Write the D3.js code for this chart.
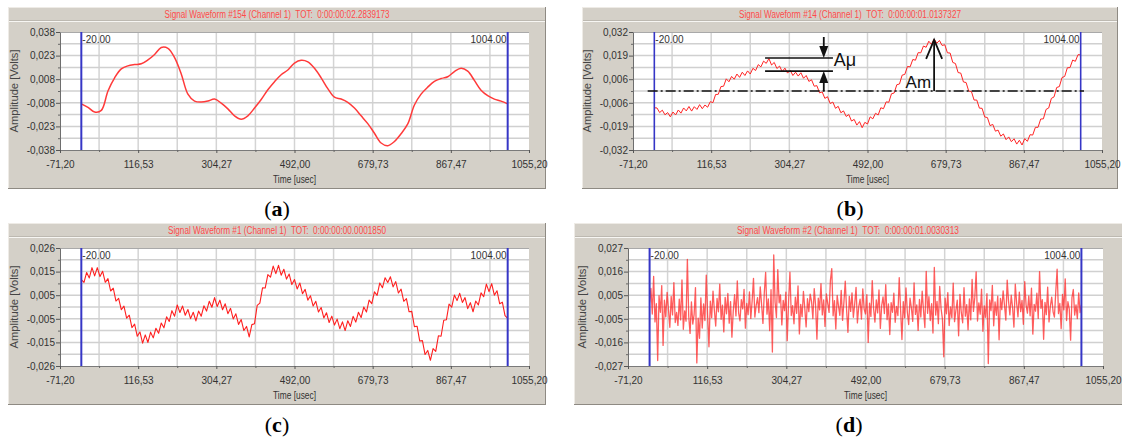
<!DOCTYPE html>
<html>
<head>
<meta charset="utf-8">
<script src="https://cdn.jsdelivr.net/npm/d3@7"></script>
<style>
  html, body { margin: 0; padding: 0; background: #ffffff; }
  svg { display: block; }
  .ui { font-family: "Liberation Sans Narrow", "Arial Narrow", "Liberation Sans", Arial, sans-serif; }
</style>
</head>
<body>
<svg id="fig" width="1122" height="441"></svg>
<script>
// ---- acquisition settings shared by all four records ----
const timeMin = -71.2, timeMax = 1055.2;           // usec, visible window
const cursorStart = -20, cursorEnd = 1004;          // usec, record start / end cursors
const cursorLabels = ["-20.00", "1004.00"];
const timeTickLabels = ["-71,20", "116,53", "304,27", "492,00", "679,73", "867,47", "1055,20"];

const titles = [
  "Signal Waveform #154 (Channel 1)  TOT:  0:00:00:02.2839173",
  "Signal Waveform #14 (Channel 1)  TOT:  0:00:00:01.0137327",
  "Signal Waveform #1 (Channel 1)  TOT:  0:00:00:00.0001850",
  "Signal Waveform #2 (Channel 1)  TOT:  0:00:00:01.0030313"
];
const captions = ["a", "b", "c", "d"];

// full-scale amplitude of each record (V) and its printed tick labels, top to bottom
const ampFullScale = [0.038, 0.032, 0.0258, 0.027];
const ampLabelsA = ["0,038", "0,023", "0,008", "-0,008", "-0,023", "-0,038"];
const ampLabelsB = ["0,032", "0,019", "0,006", "-0,006", "-0,019", "-0,032"];
const ampLabelsC = ["0,026", "0,015", "0,005", "-0,005", "-0,015", "-0,026"];
const ampLabelsD = ["0,027", "0,016", "0,005", "-0,005", "-0,016", "-0,027"];

// ---- waveforms, millivolts, evenly sampled between the two cursors ----
const waveA = [-8.3,-10.5,-13.5,-12.5,0.0,8.5,14.2,16.2,17.0,17.5,20.0,23.5,28.0,27.5,21.5,11.0,-2.0,-6.5,-7.1,-6.5,
  -5.2,-7.8,-11.5,-16.0,-18.2,-16.0,-11.0,-5.5,0.8,6.0,10.5,13.5,18.0,19.8,18.8,14.6,8.5,1.5,-4.0,-5.2,
  -7.3,-11.0,-16.0,-21.0,-27.2,-33.5,-35.2,-32.5,-27.5,-21.2,-9.0,-2.0,2.5,6.2,8.0,9.2,12.5,14.6,12.8,6.8,
  0.5,-3.0,-5.2,-6.5,-8.3];

const waveB = [-9.1,-9.2,-11.7,-10.4,-12.9,-11.7,-14.0,-11.4,-13.0,-10.3,
  -12.0,-9.2,-10.8,-8.4,-10.9,-8.5,-10.0,-7.4,-9.6,-7.6,
  -8.8,-5.8,-6.3,-1.9,-1.8,2.4,2.6,6.6,5.0,7.9,
  6.4,9.2,7.4,10.2,8.4,10.9,9.2,12.3,11.1,14.3,
  13.1,16.2,15.0,17.6,14.1,15.5,12.2,13.5,10.5,12.4,
  9.7,11.2,8.4,10.2,8.1,9.9,6.9,8.4,5.2,6.1,
  2.6,2.9,-1.0,-0.5,-4.0,-3.1,-6.8,-6.0,-9.4,-8.3,
  -11.8,-10.8,-13.8,-12.8,-16.3,-15.4,-18.5,-16.6,-19.9,-17.0,
  -17.9,-14.0,-15.1,-12.1,-13.0,-9.1,-9.6,-5.9,-6.1,-1.5,
  -1.1,3.4,3.8,8.6,9.0,13.3,13.1,17.1,16.7,20.8,
  20.7,24.4,23.7,27.0,25.3,28.2,25.9,27.4,24.7,25.1,
  20.7,20.6,15.5,14.9,10.0,9.7,4.9,4.6,-0.1,-0.3,
  -4.9,-4.9,-9.3,-9.4,-14.1,-14.4,-18.8,-18.1,-21.8,-21.2,
  -24.5,-23.3,-26.4,-24.9,-27.5,-25.9,-28.8,-26.7,-29.3,-25.8,
  -27.3,-23.7,-23.9,-19.7,-19.7,-15.2,-15.1,-10.0,-9.2,-4.0,
  -3.2,1.9,2.4,7.3,7.9,12.6,12.7,16.8,16.1,19.7,
  19.6];

const waveC = [12.0,10.8,15.1,12.7,17.2,13.6,17.2,13.3,15.6,10.8,
  12.4,7.0,8.2,2.6,3.8,-1.2,0.4,-4.9,-3.6,-9.0,
  -7.5,-12.8,-10.9,-15.8,-12.2,-15.5,-11.0,-13.5,-9.3,-11.5,
  -7.0,-9.1,-4.3,-6.3,-1.6,-4.0,0.9,-2.4,0.4,-3.6,
  -1.1,-5.1,-2.3,-6.1,-1.8,-4.0,0.5,-1.8,2.5,-0.1,
  4.1,0.2,3.0,-1.2,1.4,-2.9,-0.6,-5.2,-3.0,-7.6,
  -5.5,-10.3,-8.5,-13.1,-7.7,-7.3,0.7,1.7,8.4,8.3,
  14.2,13.1,17.9,14.6,18.2,13.9,16.5,12.2,14.4,9.8,
  12.0,7.9,10.5,5.8,7.7,3.0,4.9,0.4,2.5,-2.2,
  -0.2,-4.8,-2.5,-6.8,-4.0,-7.9,-5.3,-9.5,-6.5,-10.3,
  -6.0,-8.5,-4.1,-6.6,-2.3,-4.6,0.0,-2.2,3.0,1.5,
  6.6,5.1,10.5,8.4,12.8,10.7,13.2,8.8,11.1,6.1,
  7.8,2.5,3.7,-2.1,-1.9,-8.6,-8.4,-14.9,-14.7,-20.8,
  -19.0,-23.3,-18.2,-19.4,-12.6,-12.8,-5.8,-5.6,1.3,-0.1,
  5.2,2.8,6.0,2.0,4.1,-0.7,1.9,-2.1,2.6,0.9,
  6.2,4.5,10.0,6.7,10.2,5.2,7.1,1.4,2.1,-3.8,
  -5.0];

const waveD = [2.1,8.5,-3.2,14.0,-6.8,1.5,-24.5,5.2,-2.4,9.8,-17.6,3.1,-4.5,6.7,-1.2,-9.3,4.8,-3.6,11.2,-7.1,
  -2.5,-8.4,3.6,-5.9,12.4,-10.2,-1.8,-6.5,21.8,-4.2,-12.1,2.3,-7.8,-3.4,8.9,-25.6,-5.1,-14.3,4.2,-9.6,
  1.4,-6.2,14.6,-3.8,-18.2,2.7,-4.9,7.3,-1.5,-8.7,3.9,-2.2,10.5,-5.6,0.8,-11.4,4.4,-3.1,6.2,-7.4,
  2.5,-13.8,-1.9,5.6,-4.1,11.9,-2.8,-6.3,3.4,-0.9,8.1,-9.7,1.6,-3.5,6.9,-5.2,2.8,13.1,-4.6,0.7,
  4.3,-2.6,9.2,1.1,-7.5,6.4,15.8,-3.3,3.7,-10.8,7.9,-20.6,23.8,2.2,-4.8,17.1,1.9,5.5,-8.2,3.0,
  -1.7,6.8,-15.4,2.4,15.9,-3.9,0.6,-7.7,4.5,-2.9,9.6,-12.3,1.2,-4.4,7.1,-0.5,-9.1,3.8,-2.1,5.9,
  2.6,-5.3,8.4,0.9,-14.7,4.1,-1.3,10.7,-3.6,3.2,-8.9,6.0,1.7,-2.5,12.2,17.6,-4.0,2.9,-10.1,5.3,
  0.4,-3.8,7.6,-6.1,2.1,11.8,-1.4,-11.6,4.9,-2.0,6.5,-4.7,1.3,9.0,-7.3,0.2,3.6,-5.5,8.3,-1.0,
  -3.2,5.7,-16.2,1.8,-4.3,12.1,-0.8,-6.9,3.3,-2.7,7.8,-9.8,0.6,4.6,-3.0,10.2,-5.8,1.4,-12.6,2.0,
  -2.4,6.3,-7.0,0.3,-3.9,13.4,-1.1,-14.9,2.5,-5.0,8.7,-2.3,-8.0,4.0,-0.4,-6.6,11.0,-3.4,1.0,-10.7,
  3.5,-4.6,7.2,-1.6,-9.4,16.3,-2.9,4.7,-6.2,1.5,-11.9,18.1,-3.7,2.6,-7.6,9.4,-0.7,-5.4,-22.8,4.0,
  -3.1,6.6,-8.5,0.1,-4.9,10.9,-6.7,-1.5,3.1,-13.2,5.8,-2.6,-7.2,8.8,-4.2,1.1,-10.4,3.7,-5.9,12.6,
  -2.0,4.4,16.1,-6.4,1.9,-3.3,8.2,-11.1,0.5,-4.7,6.1,-25.9,3.2,-1.7,9.9,-8.6,2.3,-3.8,5.0,-15.0,
  3.9,-1.2,7.4,0.8,-6.0,12.3,2.7,-3.6,5.4,-0.3,-9.2,10.4,1.8,-4.5,6.8,-2.1,3.0,-7.9,11.6,0.9,
  -2.8,5.1,-4.0,8.6,-12.4,1.2,-1.9,6.3,-5.2,16.2,-0.6,3.4,-14.8,2.1,-3.5,9.1,-6.8,0.4,4.5,-2.2,
  -4.6,7.0,17.3,-3.0,1.6,-9.9,5.8,-1.3,12.9,-6.2,2.4,-0.9,-15.2,4.3,8.0,-3.7,1.0,-5.3,6.4,-2.6,
  1.0];

// ---- amplitude markers drawn on record #14 ----
const baseLevel = 0;                  // V, dash-dot reference line
const baseSpan = [-36, 1012];         // usec
const aMuLevels = [0.0179, 0.0108];   // V, the two levels bracketing A\u03bc
const aMuSpan = [246, 409];           // usec
const aMuArrowTime = 387;             // usec
const amPeak = 0.0277;                // V, top of the Am arrow
const amArrowTime = 652;              // usec

// ---- page layout ----
const layout = [
  { box: [8, 7, 538, 182],    plot: [60, 529, 32, 150],   titleX: 277, titleLen: 225 },
  { box: [582, 7, 536, 182],  plot: [633, 1102, 32, 150], titleX: 850, titleLen: 222 },
  { box: [8, 223, 538, 182],  plot: [60, 529, 248, 366],  titleX: 277, titleLen: 218 },
  { box: [574, 223, 552, 182],plot: [628, 1103, 248, 366],titleX: 848, titleLen: 222 }
];
const captionPos = [[277, 216], [850, 216], [277, 432], [849, 432]];
const waves = [waveA, waveB, waveC, waveD];
const ampLabels = [ampLabelsA, ampLabelsB, ampLabelsC, ampLabelsD];
const waveStyle = [
  { color: "#ff3a3a", width: 1.5, opacity: 1, curve: d3.curveCatmullRom },
  { color: "#ff2424", width: 1.0, opacity: 1, curve: d3.curveLinear },
  { color: "#ff1f1f", width: 1.1, opacity: 1, curve: d3.curveLinear },
  { color: "#ff1e1e", width: 1.3, opacity: 0.72, curve: d3.curveLinear }
];

const svg = d3.select("#fig");
svg.append("rect").attr("width", 1122).attr("height", 441).attr("fill", "#ffffff");

const defs = svg.append("defs");

layout.forEach((L, idx) => {
  const [bx, by, bw, bh] = L.box;
  const [pl, pr, pt, pb] = L.plot;
  const fs = ampFullScale[idx];
  const g = svg.append("g").attr("class", "ui");

  // window frame
  g.append("rect").attr("x", bx).attr("y", by).attr("width", bw).attr("height", bh).attr("fill", "#d4d0c8");
  g.append("line").attr("x1", bx).attr("x2", bx + bw).attr("y1", by + 0.5).attr("y2", by + 0.5).attr("stroke", "#eeebe6");
  g.append("line").attr("x1", bx + 0.5).attr("x2", bx + 0.5).attr("y1", by).attr("y2", by + bh).attr("stroke", "#eeebe6");
  g.append("line").attr("x1", bx).attr("x2", bx + bw).attr("y1", by + bh - 0.5).attr("y2", by + bh - 0.5).attr("stroke", "#8e8a83");
  g.append("line").attr("x1", bx + bw - 0.5).attr("x2", bx + bw - 0.5).attr("y1", by).attr("y2", by + bh).attr("stroke", "#8e8a83");
  // title strip separator
  g.append("line").attr("x1", bx + 1).attr("x2", bx + bw - 1).attr("y1", by + 13.5).attr("y2", by + 13.5).attr("stroke", "#bdb9b1");
  g.append("line").attr("x1", bx + 1).attr("x2", bx + bw - 1).attr("y1", by + 14.5).attr("y2", by + 14.5).attr("stroke", "#f7f6f3");

  g.append("text")
    .attr("x", L.titleX).attr("y", by + 10.5)
    .attr("text-anchor", "middle")
    .attr("font-size", 10)
    .attr("fill", "#ff4a4a")
    .attr("textLength", L.titleLen).attr("lengthAdjust", "spacingAndGlyphs")
    .style("white-space", "pre")
    .text(titles[idx]);

  const x = d3.scaleLinear().domain([timeMin, timeMax]).range([pl, pr]);
  const y = d3.scaleLinear().domain([-fs, fs]).range([pb, pt]);

  // plot background
  g.append("rect").attr("x", pl).attr("y", pt).attr("width", pr - pl).attr("height", pb - pt).attr("fill", "#ffffff");

  // grid: every half division
  const timeStep = (timeMax - timeMin) / 12;
  const xGrid = d3.range(1, 12).map(k => timeMin + k * timeStep);
  const ampStep = (2 * fs) / 10;
  const yGrid = d3.range(1, 10).map(k => -fs + k * ampStep);
  g.append("g").selectAll("line").data(xGrid).join("line")
    .attr("x1", d => x(d)).attr("x2", d => x(d)).attr("y1", pt).attr("y2", pb)
    .attr("stroke", "#d4d4d4").attr("stroke-width", 1.5);
  g.append("g").selectAll("line").data(yGrid).join("line")
    .attr("x1", pl).attr("x2", pr).attr("y1", d => y(d)).attr("y2", d => y(d))
    .attr("stroke", "#d0d0d0").attr("stroke-width", 1.5);
  g.append("line").attr("x1", pl).attr("x2", pr).attr("y1", pt + 0.5).attr("y2", pt + 0.5).attr("stroke", "#a9a9a9");

  // waveform
  const clipId = "clip" + idx;
  defs.append("clipPath").attr("id", clipId).append("rect")
    .attr("x", pl).attr("y", pt).attr("width", pr - pl).attr("height", pb - pt);
  const wave = waves[idx];
  const dt = (cursorEnd - cursorStart) / (wave.length - 1);
  const pts = wave.map((mv, i) => [cursorStart + i * dt, mv / 1000]);
  const st = waveStyle[idx];
  g.append("path")
    .attr("clip-path", `url(#${clipId})`)
    .attr("d", d3.line().x(d => x(d[0])).y(d => y(d[1])).curve(st.curve)(pts))
    .attr("fill", "none").attr("stroke", st.color).attr("stroke-width", st.width)
    .attr("stroke-opacity", st.opacity).attr("stroke-linejoin", "round");

  // record cursors
  [cursorStart, cursorEnd].forEach(c => {
    g.append("line").attr("x1", x(c)).attr("x2", x(c)).attr("y1", pt).attr("y2", pb)
      .attr("stroke", "#3636c6").attr("stroke-width", idx === 1 ? 1.6 : 2);
  });
  g.append("text").attr("x", x(cursorStart) + 1).attr("y", pt + 11)
    .attr("font-size", 10).attr("fill", "#333").text(cursorLabels[0]);
  g.append("text").attr("x", x(cursorEnd) - 1).attr("y", pt + 11).attr("text-anchor", "end")
    .attr("font-size", 10).attr("fill", "#333").text(cursorLabels[1]);

  // amplitude axis
  const yMajor = d3.range(6).map(k => fs - k * 2 * ampStep);
  const yMinor = d3.range(5).map(k => fs - ampStep - k * 2 * ampStep);
  const yAx = g.append("g").attr("transform", `translate(${pl},0)`)
    .call(d3.axisLeft(y).tickValues(yMajor).tickFormat((d, i) => ampLabels[idx][i]).tickSize(4).tickSizeOuter(0).tickPadding(1));
  yAx.attr("font-family", null).attr("font-size", null);
  yAx.select(".domain").attr("stroke", "#6e6e6e");
  yAx.selectAll(".tick line").attr("stroke", "#555");
  yAx.selectAll("text").attr("font-size", 10).attr("fill", "#333");
  const yMin = g.append("g").attr("transform", `translate(${pl},0)`)
    .call(d3.axisLeft(y).tickValues(yMinor).tickFormat("").tickSize(2).tickSizeOuter(0));
  yMin.select(".domain").remove();
  yMin.selectAll(".tick line").attr("stroke", "#666");

  // time axis
  const xMajor = d3.range(7).map(k => timeMin + 2 * k * timeStep);
  const xMinor = d3.range(6).map(k => timeMin + (2 * k + 1) * timeStep);
  const xAx = g.append("g").attr("transform", `translate(0,${pb})`)
    .call(d3.axisBottom(x).tickValues(xMajor).tickFormat((d, i) => timeTickLabels[i]).tickSize(3).tickSizeOuter(0).tickPadding(8));
  xAx.attr("font-family", null).attr("font-size", null);
  xAx.select(".domain").attr("stroke", "#7a7a7a");
  xAx.selectAll(".tick line").attr("stroke", "#555");
  xAx.selectAll("text").attr("font-size", 10).attr("fill", "#333");
  const xMin = g.append("g").attr("transform", `translate(0,${pb})`)
    .call(d3.axisBottom(x).tickValues(xMinor).tickFormat("").tickSize(2).tickSizeOuter(0));
  xMin.select(".domain").remove();
  xMin.selectAll(".tick line").attr("stroke", "#666");

  // axis titles
  g.append("text").attr("x", (pl + pr) / 2).attr("y", pb + 33).attr("text-anchor", "middle")
    .attr("font-size", 10).attr("fill", "#333").attr("textLength", 43).attr("lengthAdjust", "spacingAndGlyphs")
    .text("Time [usec]");
  g.append("text").attr("transform", `translate(${pl - 42},${(pt + pb) / 2}) rotate(-90)`)
    .attr("text-anchor", "middle").attr("font-size", 10).attr("fill", "#444")
    .attr("textLength", 83).attr("lengthAdjust", "spacingAndGlyphs")
    .text("Amplitude [Volts]");

  // amplitude markers on record #14
  if (idx === 1) {
    const ink = "#111";
    g.append("line").attr("x1", x(baseSpan[0])).attr("x2", x(baseSpan[1]))
      .attr("y1", y(baseLevel)).attr("y2", y(baseLevel))
      .attr("stroke", ink).attr("stroke-width", 1.4).attr("stroke-dasharray", "10,3,2,3");
    aMuLevels.forEach(v => {
      g.append("line").attr("x1", x(aMuSpan[0])).attr("x2", x(aMuSpan[1]))
        .attr("y1", y(v)).attr("y2", y(v)).attr("stroke", ink).attr("stroke-width", 1.6);
    });
    const ax = x(aMuArrowTime);
    const yTop = y(aMuLevels[0]), yBot = y(aMuLevels[1]), y0 = y(baseLevel);
    g.append("line").attr("x1", ax).attr("x2", ax).attr("y1", yTop - 21).attr("y2", yTop - 11)
      .attr("stroke", ink).attr("stroke-width", 1.8);
    g.append("path").attr("d", `M${ax},${yTop} L${ax - 4.5},${yTop - 12} L${ax + 4.5},${yTop - 12} Z`).attr("fill", ink);
    g.append("line").attr("x1", ax).attr("x2", ax).attr("y1", yBot + 11).attr("y2", y0)
      .attr("stroke", ink).attr("stroke-width", 1.8);
    g.append("path").attr("d", `M${ax},${yBot} L${ax - 4.5},${yBot + 12} L${ax + 4.5},${yBot + 12} Z`).attr("fill", ink);
    g.append("text").attr("x", ax + 10).attr("y", (yTop + yBot) / 2 + 1)
      .style("font-family", "'Liberation Sans', Arial, sans-serif").attr("font-size", 18).attr("fill", ink)
      .text("A\u03bc");

    const mx = x(amArrowTime), yPk = y(amPeak);
    g.append("line").attr("x1", mx).attr("x2", mx).attr("y1", y0).attr("y2", yPk)
      .attr("stroke", ink).attr("stroke-width", 1.8);
    g.append("path").attr("d", `M${mx - 8},${yPk + 19} L${mx},${yPk} L${mx + 8},${yPk + 19}`)
      .attr("fill", "none").attr("stroke", ink).attr("stroke-width", 1.8);
    g.append("text").attr("x", mx - 3).attr("y", y0 - 3).attr("text-anchor", "end")
      .style("font-family", "'Liberation Sans', Arial, sans-serif").attr("font-size", 17).attr("fill", ink)
      .text("Am");
  }
});

// sub-figure captions
captions.forEach((c, i) => {
  const t = svg.append("text").attr("x", captionPos[i][0]).attr("y", captionPos[i][1])
    .attr("text-anchor", "middle").attr("font-size", 22).attr("fill", "#000")
    .style("font-family", "'Liberation Serif', 'Times New Roman', serif");
  t.append("tspan").text("(");
  t.append("tspan").attr("font-weight", "bold").text(c);
  t.append("tspan").text(")");
});
</script>
</body>
</html>
